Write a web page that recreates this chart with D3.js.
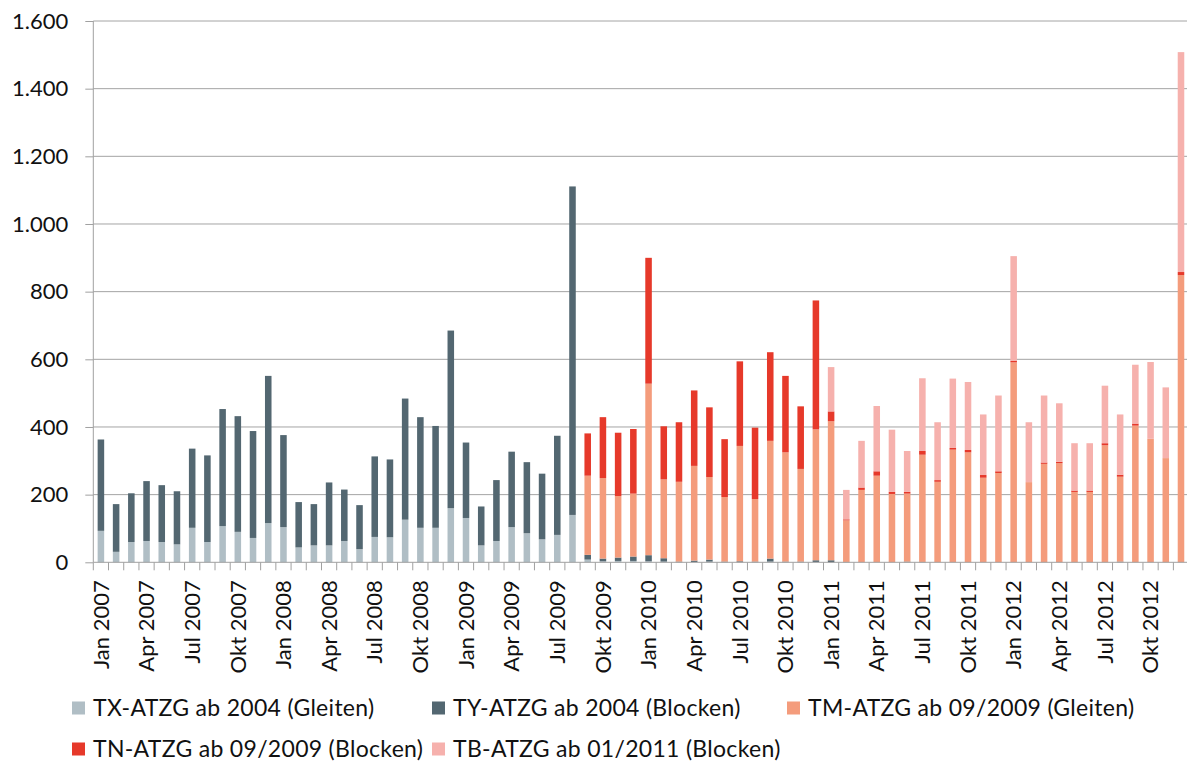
<!DOCTYPE html>
<html><head><meta charset="utf-8">
<script src="https://cdn.jsdelivr.net/npm/d3@7"></script>
<style>html,body{margin:0;padding:0;background:#fff;}svg{display:block;font-family:Lato,"Open Sans",sans-serif;}</style>
</head><body><svg id="c" width="1187" height="763"></svg>
<script>
const months = ["Jan","Feb","Mär","Apr","Mai","Jun","Jul","Aug","Sep","Okt","Nov","Dez"];
const years = [2007,2008,2009,2010,2011,2012];
const categories = years.flatMap(y => months.map(m => m + " " + y));

const TX = [93,31,60,63,60,53,102,60,107,90,72,116, 104,44,50,50,63,39,75,74,126,102,102,160, 131,50,63,104,86,68,81,140,8,3,4,4, 3,2,0,1,2,0,0,0,2,0,0,1, 0,0,0,0,0,0,0,0,0,0,0,0, 0,0,0,0,0,0,0,0,0,0,0,0];
const TY = [270,141,144,177,168,157,234,256,346,342,316,435, 272,134,122,186,152,130,238,230,358,327,301,525, 223,115,180,223,210,194,293,971,14,8,10,13, 18,10,2,4,6,2,3,2,9,2,2,5, 6,1,0,0,0,2,1,0,0,0,0,0, 0,0,0,0,0,0,0,2,0,0,0,0];
const TM = [0,0,0,0,0,0,0,0,0,0,0,0, 0,0,0,0,0,0,0,0,0,0,0,0, 0,0,0,0,0,0,0,0,234,238,182,186, 507,233,236,280,244,191,341,185,348,323,274,387, 411,123,214,256,202,201,317,238,333,325,250,264, 591,237,291,293,208,208,346,251,404,365,308,849];
const TN = [0,0,0,0,0,0,0,0,0,0,0,0, 0,0,0,0,0,0,0,0,0,0,0,0, 0,0,0,0,0,0,0,0,125,180,187,191, 372,157,176,223,206,171,250,211,262,226,185,381, 29,3,7,13,6,5,11,5,5,7,8,5, 5,0,4,4,4,4,6,6,6,0,0,9];
const TB = [0,0,0,0,0,0,0,0,0,0,0,0, 0,0,0,0,0,0,0,0,0,0,0,0, 0,0,0,0,0,0,0,0,0,0,0,0, 0,0,0,0,0,0,0,0,0,0,0,0, 131,87,138,193,184,121,215,171,205,201,179,224, 309,177,198,173,140,140,170,178,174,227,209,650];

const seriesNames = ["TX-ATZG ab 2004 (Gleiten)","TY-ATZG ab 2004 (Blocken)","TM-ATZG ab 09/2009 (Gleiten)","TN-ATZG ab 09/2009 (Blocken)","TB-ATZG ab 01/2011 (Blocken)"];
const seriesColors = ["#b0bec5","#536771","#f49c7c","#e6392a","#f6b1ad"];
const yTicks = [0,200,400,600,800,1000,1200,1400,1600];

const keys = ["TX","TY","TM","TN","TB"];
const cols = {TX,TY,TM,TN,TB};
const table = categories.map((c,i) => { const o = {cat:c}; keys.forEach(k => o[k] = cols[k][i]); return o; });

const svg = d3.select("#c");
const X0 = 93.3, X1 = 1188.6, Y0 = 562.3, Y1 = 21;
const x = d3.scaleBand().domain(categories).range([X0, X1]).paddingInner(0.57).paddingOuter(0.285);
const xb = d3.scaleBand().domain(categories).range([X0, X1]).padding(0);
const y = d3.scaleLinear().domain([0,1600]).range([Y0, Y1]);
const de = d3.formatLocale({decimal:",", thousands:".", grouping:[3], currency:["","€"]});
const fmt = de.format(",");

// gridlines
svg.append("g").selectAll("line").data(yTicks.filter(t=>t>0)).join("line")
  .attr("x1", X0).attr("x2", 1187).attr("y1", d=>y(d)).attr("y2", d=>y(d))
  .attr("stroke", "#a4a4a4").attr("stroke-width", 1);

// bars
const stack = d3.stack().keys(keys)(table);
svg.append("g").selectAll("g").data(stack).join("g")
  .attr("fill", (d,i) => seriesColors[i])
  .selectAll("rect").data(d => d).join("rect")
  .attr("x", d => x(d.data.cat)).attr("width", x.bandwidth())
  .attr("y", d => y(d[1])).attr("height", d => Math.max(0, y(d[0]) - y(d[1])));

// y axis
const ya = svg.append("g").attr("transform", `translate(${X0},0)`)
  .call(d3.axisLeft(y).tickValues(yTicks).tickFormat(fmt).tickSize(8).tickPadding(17));
ya.select(".domain").attr("stroke", "#a0a0a0").attr("d", `M0,${Y1}V${Y0}`);
ya.selectAll(".tick line").attr("stroke", "#a0a0a0");
ya.selectAll("text").attr("font-size", 22).attr("fill", "#111").attr("font-family", "Lato");

// x axis baseline and boundary ticks
svg.append("line").attr("x1", X0).attr("x2", 1187).attr("y1", Y0).attr("y2", Y0).attr("stroke", "#a0a0a0");
svg.append("g").selectAll("line").data(categories).join("line")
  .attr("x1", d => xb(d)).attr("x2", d => xb(d)).attr("y1", Y0).attr("y2", Y0 + 8)
  .attr("stroke", "#a0a0a0");

svg.append("g").selectAll("text").data(categories.filter((c,i)=>i%3===0)).join("text")
  .attr("transform", d => `translate(${x(d) + x.bandwidth()/2},${Y0 + 18}) rotate(-90)`)
  .attr("text-anchor", "end").attr("dy", "0.35em")
  .attr("font-size", 22).attr("fill", "#111").text(d => d);

// legend
const legPos = [[72,708],[432,708],[787,708],[72,749],[432,749]];
const lg = svg.append("g").selectAll("g").data(seriesNames).join("g")
  .attr("transform", (d,i) => `translate(${legPos[i][0]},${legPos[i][1]})`);
lg.append("rect").attr("x",0).attr("y",-6.5).attr("width",13).attr("height",13).attr("fill",(d,i)=>seriesColors[i]);
lg.append("text").attr("x", 21).attr("dy","0.34em").attr("font-size", 23).attr("letter-spacing", 0.3)
  .attr("fill","#111").text(d=>d);
</script></body></html>
